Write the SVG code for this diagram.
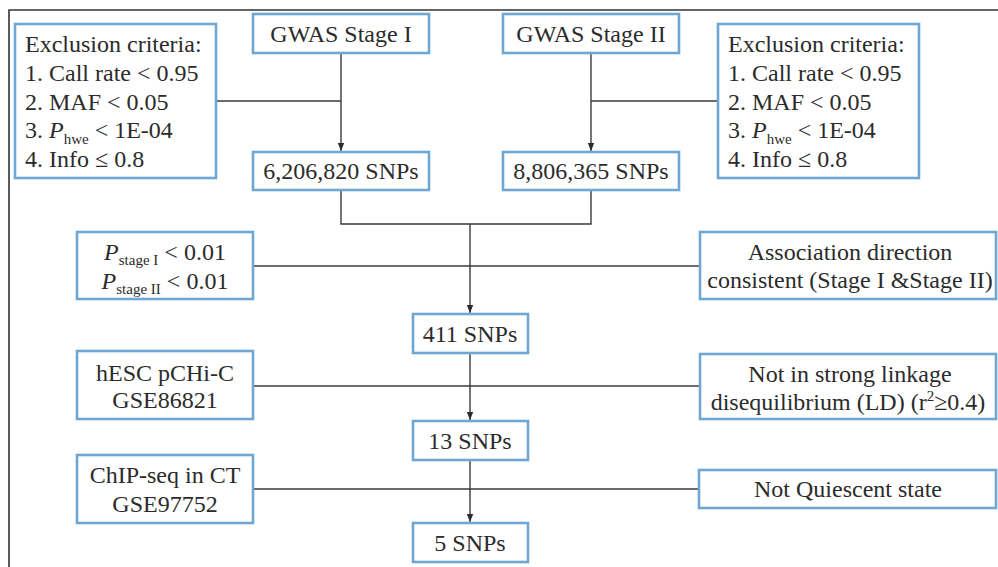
<svg xmlns="http://www.w3.org/2000/svg" width="998" height="567" viewBox="0 0 998 567">
<defs>
<style>
.box{fill:#fff;stroke:#6ea6d4;stroke-width:2.6}
.glow{fill:none;stroke:#cfe2f2;stroke-width:5}
text{font-family:"Liberation Serif","Times New Roman",serif;font-size:24px;fill:#2b2b2b}
.c{text-anchor:middle}
.sub{font-size:15px}
.ln{fill:none;stroke:#3a3a3a;stroke-width:1.4}
</style>
<marker id="ah" viewBox="0 0 8 8" refX="8" refY="4" markerWidth="8" markerHeight="8" markerUnits="userSpaceOnUse" orient="auto">
<path d="M0,0.8 L8,4 L0,7.2 Z" fill="#2b2b2b"/>
</marker>
</defs>
<rect width="998" height="567" fill="#fff"/>
<path d="M9,567 V10 H998" fill="none" stroke="#333" stroke-width="1.6"/>

<g id="connectors">
<path class="ln" d="M341,53 V151" marker-end="url(#ah)"/>
<path class="ln" d="M216,101 H341"/>
<path class="ln" d="M591,53 V151" marker-end="url(#ah)"/>
<path class="ln" d="M591,101 H718"/>
<path class="ln" d="M341,190 V224 H591 V190"/>
<path class="ln" d="M470,224 V313" marker-end="url(#ah)"/>
<path class="ln" d="M253,266 H700"/>
<path class="ln" d="M470,353 V420" marker-end="url(#ah)"/>
<path class="ln" d="M253,386 H700"/>
<path class="ln" d="M470,460 V522" marker-end="url(#ah)"/>
<path class="ln" d="M253,489 H700"/>
</g>

<g id="excl-left">
<rect class="box" x="15" y="24" width="201" height="154"/>
<text x="25" y="52">Exclusion criteria:</text>
<text x="25" y="81">1. Call rate &lt; 0.95</text>
<text x="25" y="110">2. MAF &lt; 0.05</text>
<text x="25" y="138">3. <tspan font-style="italic">P</tspan><tspan class="sub" dy="6">hwe</tspan><tspan dy="-6"> &lt; 1E-04</tspan></text>
<text x="25" y="167">4. Info ≤ 0.8</text>
</g>

<g id="gwas1">
<rect class="box" x="253" y="14" width="176" height="39"/>
<text class="c" x="341" y="42">GWAS Stage I</text>
</g>

<g id="gwas2">
<rect class="box" x="503" y="14" width="176" height="39"/>
<text class="c" x="591" y="42">GWAS Stage II</text>
</g>

<g id="excl-right">
<rect class="box" x="718" y="24" width="201" height="154"/>
<text x="728" y="52">Exclusion criteria:</text>
<text x="728" y="81">1. Call rate &lt; 0.95</text>
<text x="728" y="110">2. MAF &lt; 0.05</text>
<text x="728" y="138">3. <tspan font-style="italic">P</tspan><tspan class="sub" dy="6">hwe</tspan><tspan dy="-6"> &lt; 1E-04</tspan></text>
<text x="728" y="167">4. Info ≤ 0.8</text>
</g>

<g id="snps1">
<rect class="box" x="253" y="152" width="176" height="38"/>
<text class="c" x="341" y="179">6,206,820 SNPs</text>
</g>

<g id="snps2">
<rect class="box" x="503" y="152" width="176" height="38"/>
<text class="c" x="591" y="179">8,806,365 SNPs</text>
</g>

<g id="pval">
<rect class="box" x="77" y="232" width="176" height="67"/>
<text class="c" x="165" y="260"><tspan font-style="italic">P</tspan><tspan class="sub" dy="5">stage I</tspan><tspan dy="-5"> &lt; 0.01</tspan></text>
<text class="c" x="165" y="289"><tspan font-style="italic">P</tspan><tspan class="sub" dy="5">stage II</tspan><tspan dy="-5"> &lt; 0.01</tspan></text>
</g>

<g id="assoc">
<rect class="box" x="700" y="232" width="296" height="67"/>
<text class="c" x="850" y="260">Association direction</text>
<text class="c" x="850" y="288">consistent (Stage I &amp;Stage II)</text>
</g>

<g id="snps411">
<rect class="box" x="413" y="314" width="115" height="39"/>
<text class="c" x="470" y="342">411 SNPs</text>
</g>

<g id="hesc">
<rect class="box" x="77" y="351" width="176" height="68"/>
<text class="c" x="165" y="381">hESC pCHi-C</text>
<text class="c" x="165" y="408">GSE86821</text>
</g>

<g id="ld">
<rect class="box" x="700" y="354" width="296" height="65"/>
<text class="c" x="850" y="382">Not in strong linkage</text>
<text class="c" x="848" y="410">disequilibrium (LD) (r<tspan class="sub" dy="-9">2</tspan><tspan dy="9">≥0.4)</tspan></text>
</g>

<g id="snps13">
<rect class="box" x="413" y="421" width="115" height="39"/>
<text class="c" x="470" y="449">13 SNPs</text>
</g>

<g id="chip">
<rect class="box" x="77" y="455" width="176" height="68"/>
<text class="c" x="165" y="483">ChIP-seq in CT</text>
<text class="c" x="165" y="512">GSE97752</text>
</g>

<g id="quiescent">
<rect class="box" x="699" y="470" width="297" height="38"/>
<text class="c" x="848" y="497">Not Quiescent state</text>
</g>

<g id="snps5">
<rect class="box" x="413" y="523" width="115" height="39"/>
<text class="c" x="470" y="551">5 SNPs</text>
</g>
</svg>
